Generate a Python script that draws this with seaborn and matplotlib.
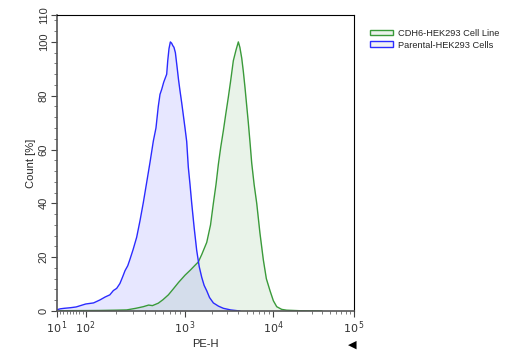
import numpy as np
import pandas as pd
import matplotlib
matplotlib.use("Agg")
import matplotlib.pyplot as plt
import seaborn as sns
from matplotlib.patches import Patch
from matplotlib.ticker import FixedLocator, MultipleLocator

# PE-H values and count [%]
parental_pe = [11, 20, 33, 51, 70, 100, 120, 139, 157, 175, 190, 205, 221, 235, 249,
               265, 279, 300, 326, 352, 380, 410, 444, 480, 510, 538, 560, 583, 610,
               654, 670, 690, 712, 734, 754, 774, 800, 836, 860, 889, 925, 960, 1000,
               1045, 1090, 1140, 1192, 1270, 1358, 1450, 1549, 1650, 1766, 1900, 2100,
               2400, 2727, 3300, 4217]
parental_cnt = [0.5, 0.8, 1.0, 1.2, 1.5, 2.6, 3.0, 4.1, 5.2, 6.0, 7.6, 8.4, 10.2, 12.6,
                15.0, 16.8, 19.2, 22.8, 27.4, 33.5, 40.2, 47.5, 55.2, 63.2, 68.0, 76.0,
                80.5, 82.4, 85.0, 88.0, 93.0, 97.5, 100.0, 99.5, 98.6, 98.0, 96.0, 90.0,
                86.0, 82.0, 77.5, 73.0, 68.0, 63.0, 53.5, 47.0, 40.0, 31.0, 22.5, 16.5,
                12.5, 9.5, 7.5, 5.0, 3.0, 1.8, 1.0, 0.4, 0.0]

cdh6_pe = [19, 139, 200, 259, 320, 380, 430, 470, 538, 600, 680, 762, 860, 1000,
           1150, 1300, 1416, 1550, 1766, 1950, 2100, 2250, 2393, 2550, 2727, 2900,
           3108, 3300, 3540, 3800, 4036, 4200, 4409, 4600, 4805, 5000, 5240, 5500,
           5725, 6100, 6530, 7100, 7762, 8400, 9250, 10100, 11110, 12800, 14750,
           21500, 40000]
cdh6_cnt = [0.1, 0.2, 0.3, 0.4, 1.0, 1.6, 2.2, 2.0, 2.9, 4.2, 6.0, 8.2, 10.6, 13.3,
            15.2, 17.0, 18.2, 21.0, 25.5, 32.0, 40.0, 47.0, 54.5, 61.0, 67.0, 73.0,
            79.5, 85.5, 93.0, 97.0, 100.0, 98.0, 94.0, 89.0, 83.0, 77.0, 70.0, 62.0,
            55.0, 47.0, 40.0, 29.0, 19.0, 12.0, 7.5, 3.8, 1.6, 0.6, 0.3, 0.1, 0.0]

series_names = ["CDH6-HEK293 Cell Line", "Parental-HEK293 Cells"]
line_colors = ["#3a9a3a", "#2b2bff"]

# cytometer-like axis: linear from 10 to 100, then log decades of uneven width
dec_pos = [28.7, 128.0, 216.0, 297.0]
dec_log = [2.0, 3.0, 4.0, 5.0]


def fwd(x):
    x = np.asarray(x, dtype=float)
    lin = (x - 10.0) / 90.0 * 28.7
    lg = np.interp(np.log10(np.clip(x, 1e-9, None)), dec_log, dec_pos)
    return np.where(x < 100, lin, lg)


def inv(p):
    p = np.asarray(p, dtype=float)
    lin = 10.0 + p / 28.7 * 90.0
    lg = 10 ** np.interp(p, dec_pos, dec_log)
    return np.where(p < 28.7, lin, lg)


sns.set_theme(style="ticks")
plt.rcParams["font.family"] = ["Liberation Sans", "DejaVu Sans"]

fig = plt.figure(figsize=(5.08, 3.58), dpi=100)
ax = fig.add_axes([0.1122, 0.1313, 0.5847, 0.8268])

df = pd.concat([
    pd.DataFrame({"pe": cdh6_pe, "cnt": cdh6_cnt, "s": series_names[0]}),
    pd.DataFrame({"pe": parental_pe, "cnt": parental_cnt, "s": series_names[1]}),
])

ax.set_xscale("function", functions=(fwd, inv))

for name, col in zip(series_names, line_colors):
    d = df[df.s == name]
    ax.fill_between(d.pe, 0, d.cnt, color=col, alpha=0.11, lw=0)
    sns.lineplot(data=d, x="pe", y="cnt", color=col, lw=1.0, ax=ax, sort=False,
                 legend=False)

ax.set_xlim(10, 1e5)
ax.set_ylim(0, 110)

ax.xaxis.set_major_locator(FixedLocator([10, 100, 1000, 1e4, 1e5]))
ax.set_xticklabels([r"$10^{\,1}$", r"$10^{2}$", r"$10^{\,3}$", r"$10^{4}$", r"$10^{\,5}$"])
minors = [m * 10 ** k for k in range(1, 5) for m in range(2, 10)]
ax.xaxis.set_minor_locator(FixedLocator(minors))

ax.yaxis.set_major_locator(FixedLocator([0, 20, 40, 60, 80, 100, 110]))
ax.yaxis.set_minor_locator(MultipleLocator(4))
for lab in ax.get_yticklabels():
    lab.set_rotation(90)
    lab.set_va("center")

ax.tick_params(axis="both", which="major", length=4, width=0.8, color="#444444",
               labelsize=8, labelcolor="#333333", pad=2)
ax.tick_params(axis="both", which="minor", length=2, width=0.6, color="#666666")
for side in ["top", "right"]:
    ax.spines[side].set_visible(True)
    ax.spines[side].set_linewidth(0.8)
    ax.spines[side].set_color("black")
for side in ["left", "bottom"]:
    ax.spines[side].set_linewidth(1.2)
    ax.spines[side].set_color("#555555")

ax.set_xlabel("PE-H", fontsize=8, labelpad=2)
ax.set_ylabel("Count [%]", fontsize=8, labelpad=2)

handles = [Patch(facecolor=sns.light_palette(c, 8)[0], edgecolor=c, lw=1.0)
           for c in line_colors]
fig.legend(handles, series_names, loc="upper left", bbox_to_anchor=(0.722, 0.93),
           frameon=False, fontsize=6.7, handlelength=2.4, handleheight=0.6,
           labelspacing=0.3, handletextpad=0.6, borderaxespad=0)

fig.text(0.693, 0.03, "\u25c0", fontsize=8, color="black", ha="center",
         family=["DejaVu Sans"])

fig.savefig("out.png", dpi=100)
